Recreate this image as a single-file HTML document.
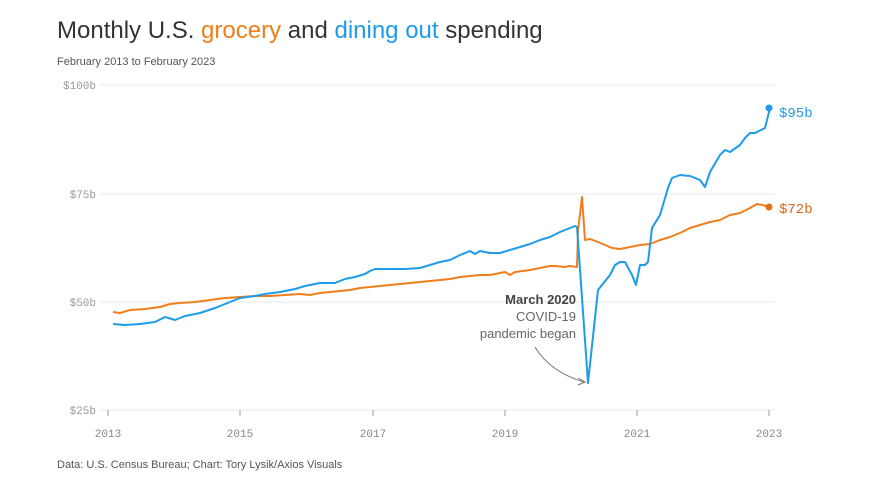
<!DOCTYPE html>
<html><head><meta charset="utf-8"><style>
body{margin:0;background:#fff;width:881px;height:496px;overflow:hidden;font-family:"Liberation Sans",sans-serif}
</style></head><body>
<svg width="881" height="496" viewBox="0 0 881 496" xmlns="http://www.w3.org/2000/svg">
<text x="57" y="38" font-size="24" fill="#333" font-family="Liberation Sans">Monthly U.S. <tspan fill="#f07f1b">grocery</tspan> and <tspan fill="#1e9be9">dining out</tspan> spending</text>
<text x="57" y="65" font-size="11" fill="#555">February 2013 to February 2023</text>
<g stroke="#e8e8e8" stroke-width="1">
<line x1="100" y1="85" x2="775" y2="85"/><line x1="100" y1="194" x2="775" y2="194"/>
<line x1="100" y1="302" x2="775" y2="302"/><line x1="100" y1="410" x2="775" y2="410"/>
</g>
<g font-family="Liberation Mono" font-size="11" fill="#999" text-anchor="end">
<text x="96" y="89">$100b</text><text x="96" y="198">$75b</text><text x="96" y="306">$50b</text><text x="96" y="414">$25b</text>
</g>
<g stroke="#999"><line x1="108" y1="410" x2="108" y2="416"/><line x1="240" y1="410" x2="240" y2="416"/><line x1="373" y1="410" x2="373" y2="416"/><line x1="505" y1="410" x2="505" y2="416"/><line x1="637" y1="410" x2="637" y2="416"/><line x1="769" y1="410" x2="769" y2="416"/></g>
<g font-family="Liberation Mono" font-size="11" fill="#888" text-anchor="middle">
<text x="108" y="437">2013</text><text x="240" y="437">2015</text><text x="373" y="437">2017</text><text x="505" y="437">2019</text><text x="637" y="437">2021</text><text x="769" y="437">2023</text>
</g>
<polyline fill="none" stroke="#f07f1b" stroke-width="2" stroke-linejoin="round" points="113,312 120,313 130,310 145,309 160,307 170,304 180,303 195,302 210,300 225,298 240,297 255,296 270,296 285,295 300,294 310,295 320,293 330,292 340,291 350,290 360,288 370,287 380,286 390,285 400,284 410,283 420,282 430,281 440,280 450,279 460,277 470,276 480,275 490,275 500,273 505,272 510,275 515,272 530,270 540,268 550,266 555,266 565,267 570,266 577,267 578,231 582,197 585,240 590,239 598,242 605,245 612,248 620,249 625,248 630,247 640,245 650,244 660,240 670,237 680,233 690,228 700,225 710,222 720,220 730,215 740,213 750,208 757,204 762,205 769,207"/>
<polyline fill="none" stroke="#1e9be9" stroke-width="2" stroke-linejoin="round" points="113,324 125,325 140,324 155,322 165,317 175,320 185,316 200,313 215,308 230,302 240,298 255,296 265,294 280,292 295,289 305,286 320,283 335,283 345,279 355,277 365,274 370,271 375,269 390,269 405,269 420,268 430,265 440,262 450,260 460,255 470,251 475,254 480,251 490,253 500,253 510,250 520,247 530,244 540,240 550,237 560,232 570,228 575,226 577,227 588,383 598,290 610,275 615,265 620,262 625,262 632,275 636,285 640,265 645,265 648,262 652,228 660,215 668,188 672,178 680,175 690,176 695,178 700,180 705,187 710,172 720,155 725,150 730,152 740,145 745,138 750,133 755,133 765,128 770,108"/>
<circle cx="769" cy="108" r="3.5" fill="#1e9be9"/><circle cx="769" cy="207" r="3.5" fill="#e0701a"/>
<text x="779" y="117" font-family="Liberation Mono" font-size="14" fill="#1e9be9">$95b</text>
<text x="779" y="213" font-family="Liberation Mono" font-size="14" fill="#d9661a">$72b</text>
<g font-size="13" text-anchor="end">
<text x="576" y="304" fill="#444" font-weight="bold">March 2020</text>
<text x="576" y="321" fill="#666">COVID-19</text>
<text x="576" y="338" fill="#666">pandemic began</text>
</g>
<path d="M535,347 Q550,372 584,382" fill="none" stroke="#777" stroke-width="1"/>
<path d="M578,378 L585,382 L578,385" fill="none" stroke="#777" stroke-width="1"/>
<text x="57" y="468" font-size="11" fill="#555">Data: U.S. Census Bureau; Chart: Tory Lysik/Axios Visuals</text>
</svg>
</body></html>
